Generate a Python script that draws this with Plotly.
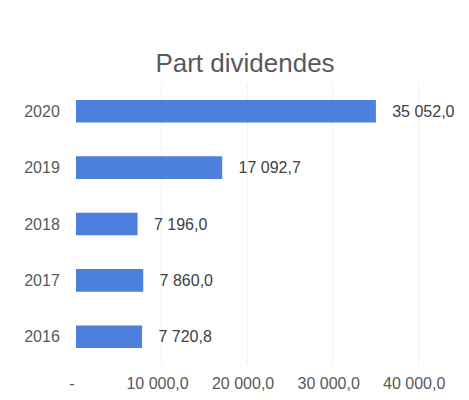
import plotly.graph_objects as go

years = ["2016", "2017", "2018", "2019", "2020"]
values = [7720.8, 7860.0, 7196.0, 17092.7, 35052.0]
x_tickvals = [0, 10000, 20000, 30000, 40000]
x_ticktext = ["-", "10 000,0", "20 000,0", "30 000,0", "40 000,0"]
title_text = "Part dividendes"

grey = "#595959"
W, H = 461, 392
fig = go.Figure(go.Bar(
    y=years, x=values, orientation="h",
    marker=dict(color="#4d7fdc", line=dict(width=0)),
    width=0.4,
    texttemplate="\u00a0\u00a0\u00a0%{x:,.1f}",
    textposition="outside",
    textfont=dict(family="Liberation Sans, Arial", size=16, color="#404040"),
    cliponaxis=False,
))
fig.update_layout(
    width=W, height=H,
    separators=", ",
    paper_bgcolor="white", plot_bgcolor="white",
    margin=dict(l=68, r=8, t=75, b=35, autoexpand=False),
    title=dict(text=title_text, x=237/W, xanchor="center", y=1-55/H, yanchor="middle",
               font=dict(family="Liberation Sans, Arial", size=26, color=grey)),
    font=dict(family="Liberation Sans, Arial", color=grey),
    showlegend=False,
)
fig.update_xaxes(range=[0, 45000], tickvals=x_tickvals, ticktext=x_ticktext,
                 showgrid=True, gridcolor="#f2f2f2", zeroline=False, showline=False,
                 ticks="outside", ticklen=4, tickcolor="rgba(0,0,0,0)", automargin=False,
                 ticklabelshift=-4,
                 tickfont=dict(size=16, color=grey))
fig.update_yaxes(showgrid=False, zeroline=False, showline=False,
                 ticks="outside", ticklen=12, tickcolor="rgba(0,0,0,0)", automargin=False,
                 tickfont=dict(size=16, color=grey))
fig.write_html("out.html")
